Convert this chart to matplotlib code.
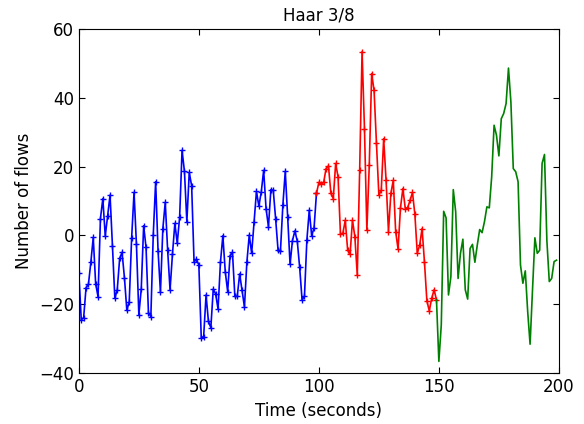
import numpy as np
import matplotlib
matplotlib.use("Agg")
import matplotlib.pyplot as plt

# flow counts per second
flows = [
    -10.8, -24.5, -23.9, -15.2, -14.2, -7.8, -0.6, -14.0, -17.8, 4.9,
    10.7, -0.2, 5.7, 11.7, -3.0, -18.3, -15.8, -6.7, -4.9, -12.3,
    -21.8, -19.2, -0.7, 12.5, -2.6, -23.0, -15.6, 2.8, -3.5, -22.4,
    -23.6, 0.1, 15.6, -4.4, -16.5, 2.0, 9.6, -4.3, -15.8, -5.5,
    3.5, -2.3, 5.4, 24.7, 18.6, 4.0, 18.3, 14.4, -7.6, -6.9,
    -8.6, -29.7, -29.4, -17.3, -25.0, -26.8, -15.6, -17.0, -21.4, -7.8,
    -0.1, -10.5, -16.3, -5.9, -4.9, -17.7, -17.7, -11.2, -16.0, -20.8,
    -7.8, 0.1, -5.2, 3.8, 12.8, 8.5, 12.6, 18.9, 7.8, 2.5,
    13.3, 13.1, 4.7, -4.3, -4.5, 8.8, 18.6, 5.4, -8.4, -1.5,
    1.3, -1.6, -9.3, -18.7, -17.7, -1.4, 7.3, -0.1, 2.2, 12.2,
    15.4, 14.8, 15.4, 19.4, 20.2, 12.2, 10.7, 20.9, 17.0, 0.3,
    0.6, 4.4, -4.3, -5.5, 4.4, -0.4, -11.5, 18.9, 53.4, 31.0,
    1.5, 20.4, 47.0, 42.1, 26.7, 11.7, 13.1, 28.1, 16.0, 1.1,
    12.2, 16.0, 1.1, -4.0, 8.0, 13.6, 7.8, 8.1, 10.2, 12.5,
    6.1, -5.2, -2.8, 2.0, -7.8, -19.0, -21.9, -18.3, -15.8, -18.7,
    -36.6, -26.0, 7.0, 5.1, -17.3, -12.0, 13.3, 6.9, -12.5, -5.2,
    -1.1, -15.8, -18.5, -3.8, -2.6, -7.8, -2.8, 1.7, 0.8, 4.0,
    8.3, 8.0, 17.0, 32.0, 29.1, 23.1, 33.9, 35.4, 38.3, 48.6,
    38.8, 19.4, 18.5, 15.6, -8.6, -13.9, -10.3, -22.1, -31.6, -16.0,
    -0.7, -5.2, -4.3, 20.9, 23.5, -1.6, -13.4, -12.5, -7.6, -7.2,
]
t = np.arange(len(flows))
flows = np.array(flows)

plt.rcParams["font.family"] = "DejaVu Sans"
plt.rcParams["font.size"] = 12
plt.rcParams["xtick.direction"] = "in"
plt.rcParams["ytick.direction"] = "in"
plt.rcParams["xtick.top"] = True
plt.rcParams["ytick.right"] = True
plt.rcParams["xtick.major.size"] = 4
plt.rcParams["ytick.major.size"] = 4

fig = plt.figure(figsize=(5.84, 4.24), dpi=100)
ax = fig.add_axes([0.135, 0.12, 0.822, 0.812])

ax.plot(t[:100], flows[:100], "b-+", linewidth=1.2, markersize=5)
ax.plot(t[99:150], flows[99:150], "r-+", linewidth=1.2, markersize=5)
ax.plot(t[149:], flows[149:], "g-", linewidth=1.2)

ax.set_xlim(0, 200)
ax.set_ylim(-40, 60)
ax.set_xticks([0, 50, 100, 150, 200])
ax.set_yticks([-40, -20, 0, 20, 40, 60])
ax.set_title("Haar 3/8", fontsize=12)
ax.set_xlabel("Time (seconds)")
ax.set_ylabel("Number of flows")

fig.savefig("out.png", dpi=100)
